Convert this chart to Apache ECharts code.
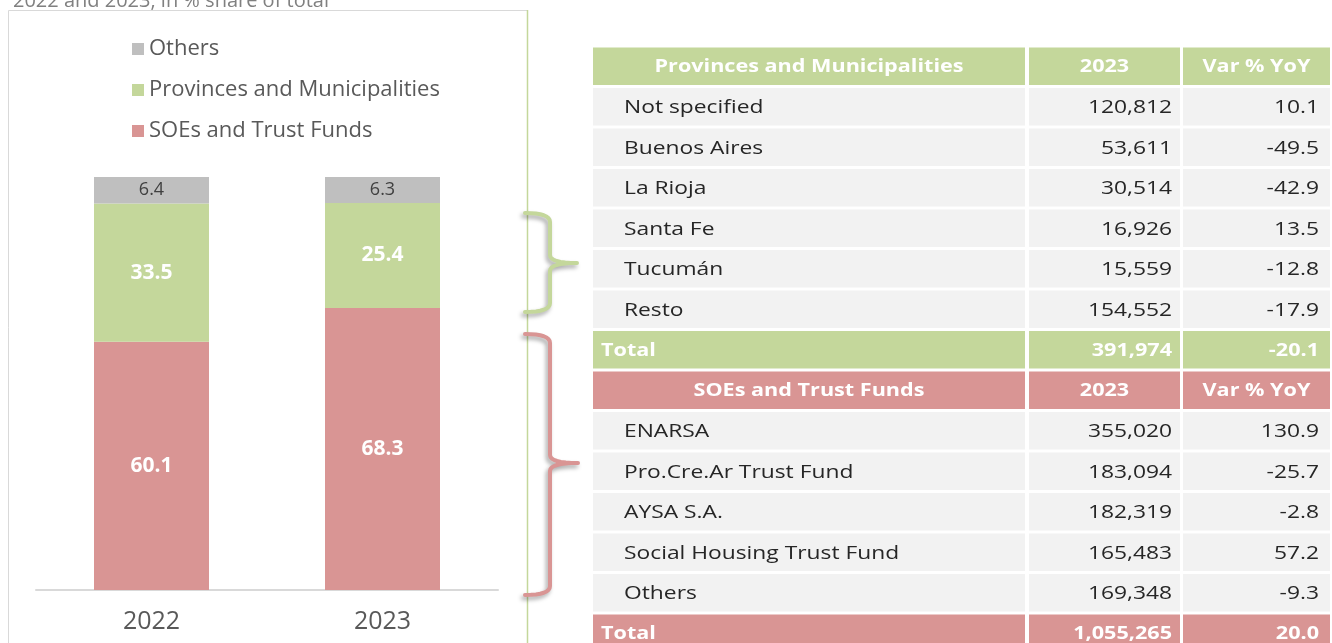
<!DOCTYPE html>
<html>
<head>
<meta charset="utf-8">
<script src="https://cdn.jsdelivr.net/npm/echarts@6/dist/echarts.min.js"></script>
<style>
html,body{margin:0;padding:0;background:#fff;}
#chart{width:1332px;height:643px;}
</style>
</head>
<body>
<div id="chart"></div>
<script>
// ---- Chart data ----
const years = ['2022', '2023'];
const soeShare = [60.1, 68.3];
const provShare = [33.5, 25.4];
const othersShare = [6.4, 6.3];

// ---- Table data ----
const provHeader = ['Provinces and Municipalities', '2023', 'Var % YoY'];
const provNames = ['Not specified', 'Buenos Aires', 'La Rioja', 'Santa Fe', 'Tucumán', 'Resto'];
const provValues = [120812, 53611, 30514, 16926, 15559, 154552];
const provVar = [10.1, -49.5, -42.9, 13.5, -12.8, -17.9];
const provTotal = [391974, -20.1];

const soeHeader = ['SOEs and Trust Funds', '2023', 'Var % YoY'];
const soeNames = ['ENARSA', 'Pro.Cre.Ar Trust Fund', 'AYSA S.A.', 'Social Housing Trust Fund', 'Others'];
const soeValues = [355020, 183094, 182319, 165483, 169348];
const soeVar = [130.9, -25.7, -2.8, 57.2, -9.3];
const soeTotal = [1055265, 20.0];

// ---- Styles / layout ----
const GREEN = '#c4d79b';
const RED = '#d99594';
const GREY = '#bfbfbf';
const CELL = '#f2f2f2';
const FONT = '"Open Sans", "Noto Sans", sans-serif';
const TABLE_W = 737;
const COLS = [[0, 432], [436, 587], [590, 737]];
const GAP = 3;
const STRETCH = 1.2;

const fmtInt = v => v.toLocaleString('en-US');
const fmtVar = v => v.toFixed(1);

const tableRows = [];
tableRows.push({kind: 'header', color: GREEN, cells: provHeader});
provNames.forEach((n, i) => tableRows.push({kind: 'item', cells: [n, fmtInt(provValues[i]), fmtVar(provVar[i])]}));
tableRows.push({kind: 'total', color: GREEN, cells: ['Total', fmtInt(provTotal[0]), fmtVar(provTotal[1])]});
tableRows.push({kind: 'header', color: RED, cells: soeHeader});
soeNames.forEach((n, i) => tableRows.push({kind: 'item', cells: [n, fmtInt(soeValues[i]), fmtVar(soeVar[i])]}));
tableRows.push({kind: 'total', color: RED, cells: ['Total', fmtInt(soeTotal[0]), fmtVar(soeTotal[1])]});

function renderCell(params, api) {
  const row = tableRows[params.dataIndex];
  const c = api.coord([0, api.value(1)]);
  const h = api.size([0, 1])[1];
  const cs = params.coordSys;
  const s = cs.width / TABLE_W;
  const ch = h - GAP;
  const children = [];
  COLS.forEach((col, k) => {
    const x0 = cs.x + col[0] * s;
    const w = (col[1] - col[0]) * s;
    children.push({type: 'rect', shape: {x: x0, y: c[1] - ch / 2, width: w, height: ch},
      style: {fill: row.color || CELL}});
    let tx, align;
    if (row.kind === 'header') { tx = x0 + w / 2; align = 'center'; }
    else if (k === 0) { tx = x0 + (row.kind === 'item' ? 31 : 8); align = 'left'; }
    else if (k === 1) { tx = x0 + w - 8; align = 'right'; }
    else { tx = x0 + w - 11; align = 'right'; }
    const bold = row.kind !== 'item';
    children.push({type: 'text', x: tx, y: c[1] + 1, scaleX: STRETCH,
      style: {text: row.cells[k], x: 0, y: 0, fill: bold ? '#ffffff' : '#262626',
        fontSize: bold ? 18 : 19, fontWeight: bold ? 'bold' : 'normal', fontFamily: FONT,
        align: align, textAlign: align, verticalAlign: 'middle', textVerticalAlign: 'middle'}});
  });
  return {type: 'group', children: children};
}

function quad(p0, cp, p1, n) {
  const pts = [];
  for (let i = 1; i <= n; i++) {
    const t = i / n, u = 1 - t;
    pts.push([u * u * p0[0] + 2 * u * t * cp[0] + t * t * p1[0], u * u * p0[1] + 2 * u * t * cp[1] + t * t * p1[1]]);
  }
  return pts;
}
function brace(xl, xv, xt, yTop, yMid, yBot) {
  let pts = [[xl, yTop]];
  pts = pts.concat(quad([xl, yTop], [xv, yTop], [xv, yTop + 9], 8));
  pts.push([xv, yMid - 8]);
  pts = pts.concat(quad([xv, yMid - 8], [xv, yMid], [xt, yMid], 8));
  pts = pts.concat(quad([xt, yMid], [xv, yMid], [xv, yMid + 8], 8));
  pts.push([xv, yBot - 9]);
  pts = pts.concat(quad([xv, yBot - 9], [xv, yBot], [xl, yBot], 8));
  return pts;
}

const chart = echarts.init(document.getElementById('chart'));
const labelInside = {show: true, position: 'inside', fontFamily: FONT};
chart.setOption({
  animation: false,
  title: {text: '2022 and 2023, in % share of total', left: 8, top: -14,
    textStyle: {fontSize: 20, fontWeight: 'normal', color: '#808080', fontFamily: FONT}},
  legend: {orient: 'vertical', left: 127, top: 33, itemWidth: 12, itemHeight: 12, itemGap: 19,
    icon: 'rect', data: ['Others', 'Provinces and Municipalities', 'SOEs and Trust Funds'],
    textStyle: {fontSize: 22, color: '#595959', fontFamily: FONT, lineHeight: 22}},
  graphic: [
    {type: 'rect', z: -10, shape: {x: 8.5, y: 10.5, width: 519, height: 700},
      style: {fill: 'none', stroke: '#d9d9d9', lineWidth: 1}},
    {type: 'line', z: -9, shape: {x1: 527.5, y1: 10, x2: 527.5, y2: 643},
      style: {stroke: GREEN, lineWidth: 1.5}},
    {type: 'polyline', shape: {points: brace(525, 550, 577, 213, 263, 312)},
      style: {stroke: GREEN, fill: null, lineWidth: 4, lineCap: 'round', lineJoin: 'round',
        shadowBlur: 4, shadowColor: 'rgba(0,0,0,0.35)', shadowOffsetX: -2, shadowOffsetY: 3}},
    {type: 'polyline', shape: {points: brace(525, 550, 578, 334, 463, 595)},
      style: {stroke: RED, fill: null, lineWidth: 4, lineCap: 'round', lineJoin: 'round',
        shadowBlur: 4, shadowColor: 'rgba(0,0,0,0.35)', shadowOffsetX: -2, shadowOffsetY: 3}}
  ],
  grid: [
    {left: 36, width: 462, top: 177, bottom: 53, outerBoundsMode: 'none'},
    {left: 593, width: 737, top: 46, height: 607.5, outerBoundsMode: 'none'}
  ],
  xAxis: [
    {type: 'category', data: years, gridIndex: 0,
      axisLine: {lineStyle: {color: '#d9d9d9', width: 2}}, axisTick: {show: false},
      axisLabel: {fontSize: 25, color: '#595959', fontFamily: FONT, margin: 19}},
    {type: 'value', gridIndex: 1, min: 0, max: 1, show: false}
  ],
  yAxis: [
    {type: 'value', gridIndex: 0, min: 0, max: 100, show: false},
    {type: 'category', gridIndex: 1, inverse: true, show: false,
      data: tableRows.map((r, i) => String(i))}
  ],
  series: [
    {name: 'SOEs and Trust Funds', type: 'bar', stack: 'total', barWidth: 115, data: soeShare,
      itemStyle: {color: RED}, emphasis: {disabled: true},
      label: Object.assign({}, labelInside, {color: '#fff', fontWeight: 'bold', fontSize: 21})},
    {name: 'Provinces and Municipalities', type: 'bar', stack: 'total', barWidth: 115, data: provShare,
      itemStyle: {color: GREEN}, emphasis: {disabled: true},
      label: Object.assign({}, labelInside, {color: '#fff', fontWeight: 'bold', fontSize: 21})},
    {name: 'Others', type: 'bar', stack: 'total', barWidth: 115, data: othersShare,
      itemStyle: {color: GREY}, emphasis: {disabled: true},
      label: Object.assign({}, labelInside, {color: '#404040', fontSize: 18})},
    {type: 'custom', xAxisIndex: 1, yAxisIndex: 1, renderItem: renderCell, silent: true,
      data: tableRows.map((r, i) => [0.5, i])}
  ]
});
</script>
</body>
</html>
